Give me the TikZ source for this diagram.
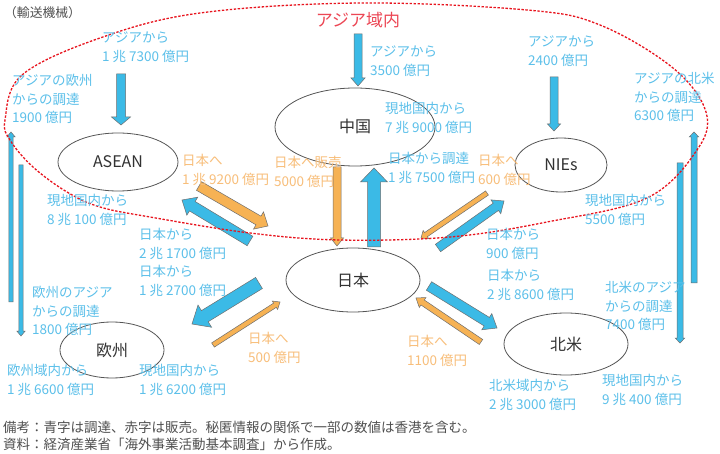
\documentclass[tikz,border=0pt]{standalone}
\usepackage{fontspec}
\setmainfont{Noto Sans CJK JP}
\usetikzlibrary{calc,shapes.geometric}
\definecolor{blueT}{RGB}{92,192,234}
\definecolor{orangeT}{RGB}{248,190,122}
\definecolor{blueF}{RGB}{59,186,230}
\definecolor{orangeF}{RGB}{246,178,84}
\definecolor{redD}{RGB}{232,20,30}
\definecolor{redT}{RGB}{236,70,84}
\definecolor{ellgray}{RGB}{85,85,85}
\definecolor{darktxt}{RGB}{50,50,50}
\definecolor{footgray}{RGB}{80,80,80}
\definecolor{outl}{RGB}{110,110,110}
% block arrow: #1 from, #2 to, #3 half shaft, #4 half head, #5 head length, #6 style
\newcommand\blockarr[6]{%
  \coordinate (bac) at ($(#2)!#5!(#1)$);
  \draw[#6] ($(#1)!#3!90:(#2)$) -- ($(bac)!#3!90:(#2)$) -- ($(bac)!#4!90:(#2)$) -- (#2)
    -- ($(bac)!#4!-90:(#2)$) -- ($(bac)!#3!-90:(#2)$) -- ($(#1)!#3!-90:(#2)$) -- cycle;
}
\tikzset{
  region/.style={ellipse, draw=ellgray, line width=0.8pt, inner sep=0pt,
    font=\fontsize{16}{16}\selectfont, text=darktxt},
  lbl/.style={anchor=north west, align=left, inner sep=0pt, yshift=6pt,
    font=\fontsize{13.5}{18.7}\selectfont},
  bl/.style={lbl, text=blueT},
  ol/.style={lbl, text=orangeT},
  barr/.style={fill=blueF, draw=outl, line width=0.5pt},
  oarr/.style={fill=orangeF, draw=outl, line width=0.5pt},
  asiazone/.style={draw=redD, line width=1.3pt, dash pattern=on 2.4pt off 1.6pt},
}
\begin{document}
\begin{tikzpicture}[x=1pt,y=-1pt]
\useasboundingbox (0,0) rectangle (720,454);
\fill[white] (0,0) rectangle (720,454);

% region nodes
\node[region, minimum width=120pt, minimum height=58pt] (asean) at (118,162) {ASEAN};
\node[region, minimum width=160pt, minimum height=78pt] (china) at (355,127) {};
\node[font=\fontsize{16}{16}\selectfont, text=darktxt, inner sep=0pt] (chinalbl) at (355,126) {中国};
\node[region, minimum width=92pt, minimum height=54pt] (nies) at (561,165) {NIEs};
\node[region, minimum width=134pt, minimum height=64pt] (japan) at (353,280) {日本};
\node[region, minimum width=104pt, minimum height=56pt] (europe) at (112,350) {欧州};
\node[region, minimum width=124pt, minimum height=62pt] (na) at (566,344) {北米};

% arrow end coordinates
\coordinate (a1s) at (121,74);  \coordinate (a1e) at (121,125);
\coordinate (a2s) at (358,34);  \coordinate (a2e) at (358,86);
\coordinate (a3s) at (554,77);  \coordinate (a3e) at (554,131);
\coordinate (a4s) at (199,186); \coordinate (a4e) at (268,226);
\coordinate (a5s) at (250,241); \coordinate (a5e) at (182,200);
\coordinate (a6s) at (337,167); \coordinate (a6e) at (337,246);
\coordinate (a7s) at (374,247); \coordinate (a7e) at (374,168);
\coordinate (a8s) at (487,193); \coordinate (a8e) at (421,238);
\coordinate (a9s) at (438,248); \coordinate (a9e) at (504,201);
\coordinate (a10s) at (259,283); \coordinate (a10e) at (192,324);
\coordinate (a11s) at (213,345); \coordinate (a11e) at (280,302);
\coordinate (a12s) at (429,286); \coordinate (a12e) at (497,328);
\coordinate (a13s) at (481,342); \coordinate (a13e) at (416,298);
\coordinate (a14s) at (11,302); \coordinate (a14e) at (11,132);
\coordinate (a15s) at (21,165); \coordinate (a15e) at (21,336);
\coordinate (a16s) at (694,283); \coordinate (a16e) at (694,132);
\coordinate (a17s) at (680,163); \coordinate (a17e) at (680,343);

\blockarr{a1s}{a1e}{4.5pt}{9.5pt}{8pt}{barr}
\blockarr{a2s}{a2e}{4pt}{7pt}{8pt}{barr}
\blockarr{a3s}{a3e}{4pt}{6.5pt}{7pt}{barr}
\blockarr{a4s}{a4e}{5pt}{10pt}{11pt}{oarr}
\blockarr{a5s}{a5e}{5.5pt}{10.5pt}{12pt}{barr}
\blockarr{a6s}{a6e}{4pt}{6.5pt}{8pt}{oarr}
\blockarr{a7s}{a7e}{6.5pt}{13.5pt}{14pt}{barr}
\blockarr{a8s}{a8e}{2.5pt}{5pt}{6pt}{oarr}
\blockarr{a9s}{a9e}{4.5pt}{8.5pt}{10pt}{barr}
\blockarr{a10s}{a10e}{6.5pt}{13pt}{15pt}{barr}
\blockarr{a11s}{a11e}{2.5pt}{5pt}{6pt}{oarr}
\blockarr{a12s}{a12e}{5pt}{9.5pt}{12pt}{barr}
\blockarr{a13s}{a13e}{3pt}{6pt}{8pt}{oarr}
\blockarr{a14s}{a14e}{2.2pt}{4.2pt}{5pt}{barr}
\blockarr{a15s}{a15e}{2.2pt}{4.2pt}{5pt}{barr}
\blockarr{a16s}{a16e}{3pt}{4.8pt}{5pt}{barr}
\blockarr{a17s}{a17e}{3pt}{4.8pt}{5pt}{barr}

% Asia zone boundary
\draw[asiazone] plot[smooth cycle, tension=0.6] coordinates {
  (5,120) (22,75) (100,38) (200,13) (360,3) (527,10) (600,25) (673,68)
  (706,112) (697,150) (647,198) (547,222) (450,237) (340,240) (250,233)
  (150,217) (100,207) (67,192) (33,167) (10,140)};

% titles
\node[anchor=west, inner sep=0pt, text=footgray, font=\fontsize{12.8}{12.8}\selectfont] (unit) at (4,13) {（輸送機械）};
\node[inner sep=0pt, text=redT, font=\fontsize{17}{17}\selectfont] (zone) at (358,20) {アジア域内};

% labels
\node[bl] (b1) at (102,38) {アジアから\\1 兆 7300 億円};
\node[bl] (b2) at (12,80) {アジアの欧州\\からの調達\\1900 億円};
\node[ol] (o1) at (182,160) {日本へ\\1 兆 9200 億円};
\node[ol] (o2) at (274,162) {日本へ販売\\5000 億円};
\node[bl] (b3) at (47,200) {現地国内から\\8 兆 100 億円};
\node[bl] (b4) at (370,52) {アジアから\\3500 億円};
\node[bl] (b5) at (385,108) {現地国内から\\7 兆 9000 億円};
\node[bl] (b6) at (388,158) {日本から調達\\1 兆 7500 億円};
\node[ol] (o3) at (478,160) {日本へ\\600 億円};
\node[bl] (b7) at (528,42) {アジアから\\2400 億円};
\node[bl] (b8) at (634,78) {アジアの北米\\からの調達\\6300 億円};
\node[bl] (b9) at (585,200) {現地国内から\\5500 億円};
\node[bl] (b10) at (139,234) {日本から\\2 兆 1700 億円\\日本から\\1 兆 2700 億円};
\node[bl] (b11) at (32,292) {欧州のアジア\\からの調達\\1800 億円};
\node[bl] (b12) at (7,370) {欧州域内から\\1 兆 6600 億円};
\node[bl] (b13) at (139,370) {現地国内から\\1 兆 6200 億円};
\node[ol] (o4) at (248,338) {日本へ\\500 億円};
\node[bl] (b14) at (486,234) {日本から\\900 億円};
\node[bl] (b15) at (487,275) {日本から\\2 兆 8600 億円};
\node[bl] (b16) at (605,287) {北米のアジア\\からの調達\\7400 億円};
\node[ol] (o5) at (407,341) {日本へ\\1100 億円};
\node[bl] (b17) at (489,385) {北米域内から\\2 兆 3000 億円};
\node[bl] (b18) at (602,380) {現地国内から\\9 兆 400 億円};

% footer
\node[anchor=north west, align=left, inner sep=0pt, yshift=6pt, text=footgray,
  font=\fontsize{13.5}{17}\selectfont] (foot) at (3,427)
  {備考：青字は調達、赤字は販売。秘匿情報の関係で一部の数値は香港を含む。\\資料：経済産業省「海外事業活動基本調査」から作成。};
\end{tikzpicture}
\end{document}
